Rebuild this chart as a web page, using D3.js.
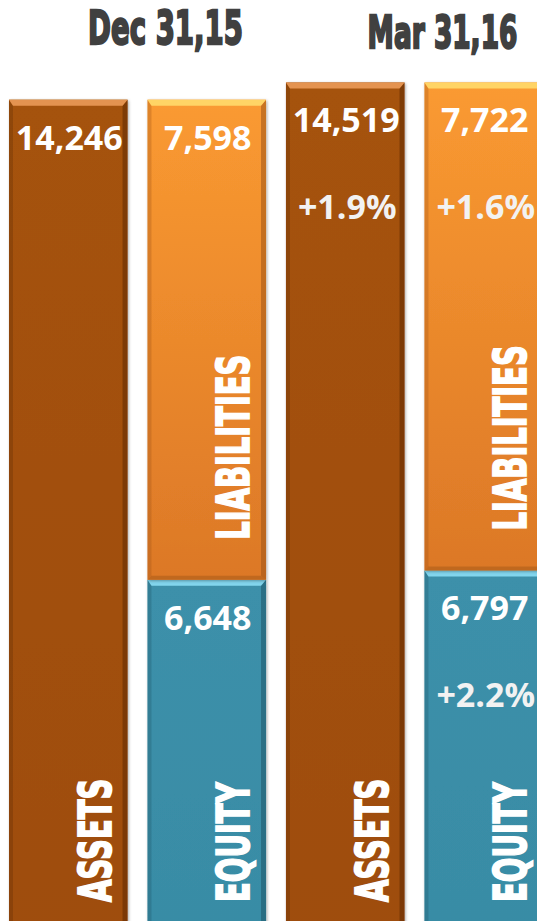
<!DOCTYPE html>
<html lang="en">
<head>
    <meta charset="UTF-8">
    <title>Assets, Liabilities and Equity</title>
    <script src="https://d3js.org/d3.v7.min.js"></script>
    <style>
        body { margin: 0; background: #fff; }
        svg { display: block; overflow: hidden; }
        .header { font-family: "DejaVu Sans", sans-serif; font-weight: bold; fill: #404040; stroke: #404040; stroke-width: 2.4px; }
        .value { font-family: "Open Sans", sans-serif; font-weight: bold; fill: #fff; font-size: 34px; }
        .change { font-family: "Open Sans", sans-serif; font-weight: bold; fill: #f2f2f2; font-size: 34px; }
        .cat { font-family: "DejaVu Sans", sans-serif; font-weight: bold; fill: #fff; stroke: #fff; stroke-width: 1.8px; font-size: 45px; }
    </style>
</head>
<body>
    <div id="chart"></div>

    <script>
        // data
        const periods = ["Dec 31,15", "Mar 31,16"];
        const assets = [14246, 14519];
        const liabilities = [7598, 7722];
        const equity = [6648, 6797];

        const width = 537;
        const height = 921;

        const palette = {
            assets: { top: "#A5520F", bottom: "#9E4D0D", light: "#EB9A58", dark: "#5E2A04" },
            liabilities: { top: "#FA9A31", bottom: "#DC7827", light: "#FFDA6A", dark: "#9E5416" },
            equity: { top: "#3C90AA", bottom: "#388BA4", light: "#8ADDF4", dark: "#1D5668" }
        };

        // one column for assets, one stacked column for liabilities + equity, per period
        const columns = [];
        periods.forEach((p, i) => {
            columns.push({
                key: p + "|a",
                segments: [{ name: "ASSETS", kind: "assets", y0: 0, y1: assets[i], value: assets[i],
                    prev: i > 0 ? assets[i - 1] : null }]
            });
            columns.push({
                key: p + "|le",
                segments: [
                    { name: "EQUITY", kind: "equity", y0: 0, y1: equity[i], value: equity[i],
                        prev: i > 0 ? equity[i - 1] : null },
                    { name: "LIABILITIES", kind: "liabilities", y0: equity[i], y1: equity[i] + liabilities[i],
                        value: liabilities[i], prev: i > 0 ? liabilities[i - 1] : null }
                ]
            });
        });

        const svg = d3.select("#chart")
            .append("svg")
            .attr("width", width)
            .attr("height", height);

        const x = d3.scaleBand()
            .domain(columns.map(d => d.key))
            .range([9, 543])
            .paddingInner(0.144)
            .paddingOuter(0);

        // baseline sits below the visible area
        const y = d3.scaleLinear()
            .domain([0, 15000])
            .range([1000, 52]);

        const defs = svg.append("defs");

        Object.entries(palette).forEach(([k, c]) => {
            const g = defs.append("linearGradient")
                .attr("id", "fill-" + k)
                .attr("x1", 0).attr("y1", 0).attr("x2", 0).attr("y2", 1);
            g.append("stop").attr("offset", "0%").attr("stop-color", c.top);
            g.append("stop").attr("offset", "100%").attr("stop-color", c.bottom);
        });

        const shadow = defs.append("filter")
            .attr("id", "shadow")
            .attr("x", "-10%").attr("y", "-5%").attr("width", "120%").attr("height", "110%");
        shadow.append("feDropShadow")
            .attr("dx", 1).attr("dy", 1)
            .attr("stdDeviation", 1.5)
            .attr("flood-color", "#000")
            .attr("flood-opacity", 0.35);

        const fmt = d3.format(",");
        const pct = d3.format("+.1%");
        const bw = x.bandwidth();

        columns.forEach(col => {
            const x0 = x(col.key);
            const x1 = x0 + bw;

            col.segments.forEach(s => {
                const top = y(s.y1);
                const bottom = y(s.y0);
                const c = palette[s.kind];
                const g = svg.append("g");

                g.append("rect")
                    .attr("x", x0)
                    .attr("y", top)
                    .attr("width", bw)
                    .attr("height", bottom - top)
                    .attr("fill", `url(#fill-${s.kind})`)
                    .attr("filter", "url(#shadow)");

                // bevel edges
                g.append("polygon")
                    .attr("points", [[x0, top], [x0 + 4, top + 6], [x0 + 4, bottom - 4], [x0, bottom]].join(" "))
                    .attr("fill", c.dark).attr("opacity", 0.3);
                g.append("polygon")
                    .attr("points", [[x1, top], [x1 - 5, top + 6], [x1 - 5, bottom - 4], [x1, bottom]].join(" "))
                    .attr("fill", c.dark).attr("opacity", 0.55);
                g.append("polygon")
                    .attr("points", [[x0, bottom], [x1, bottom], [x1 - 5, bottom - 4], [x0 + 4, bottom - 4]].join(" "))
                    .attr("fill", c.dark).attr("opacity", 0.45);
                g.append("polygon")
                    .attr("points", [[x0, top], [x1, top], [x1 - 5, top + 6], [x0 + 4, top + 6]].join(" "))
                    .attr("fill", c.light).attr("opacity", 0.9);

                // value
                g.append("text")
                    .attr("class", "value")
                    .attr("x", x0 + bw / 2 + 1)
                    .attr("y", top + 50)
                    .attr("text-anchor", "middle")
                    .text(fmt(s.value));

                // change vs previous period
                if (s.prev !== null) {
                    g.append("text")
                        .attr("class", "change")
                        .attr("x", x0 + bw / 2 + 2)
                        .attr("y", top + 137)
                        .attr("text-anchor", "middle")
                        .text(pct(s.value / s.prev - 1));
                }

                // vertical category label near the bottom of the segment (or of the view)
                const lb = Math.min(bottom, height + 21) - 40;
                g.append("text")
                    .attr("class", "cat")
                    .attr("transform", `translate(${x0 + 102},${lb}) rotate(-90) scale(0.645,1)`)
                    .text(s.name);
            });
        });

        // period headers
        periods.forEach((p, i) => {
            const cx = (x(p + "|a") + x(p + "|le") + bw) / 2 + 28;
            svg.append("text")
                .attr("class", "header")
                .attr("transform", `translate(${cx},${i === 0 ? 44 : 48}) scale(0.6,1)`)
                .attr("text-anchor", "middle")
                .style("font-size", i === 0 ? "46px" : "44px")
                .text(p);
        });
    </script>
</body>
</html>
